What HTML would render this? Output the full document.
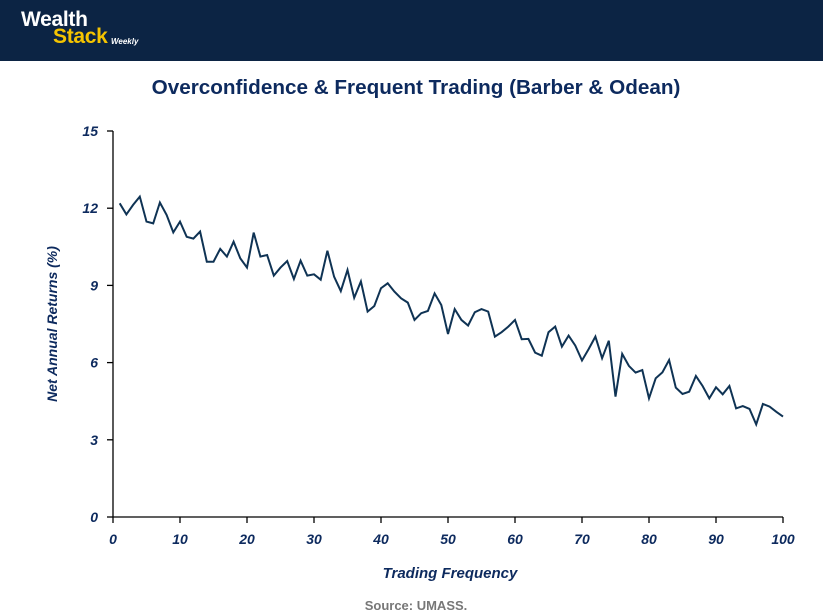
<!DOCTYPE html>
<html><head><meta charset="utf-8"><style>
body{margin:0;width:823px;height:612px;background:#fff;overflow:hidden;font-family:"Liberation Sans",sans-serif}
#hdr{position:absolute;left:0;top:0;width:823px;height:61px;background:#0c2444}
.logo{position:absolute;font-weight:bold;font-size:21px;letter-spacing:-0.3px}
</style></head><body>
<div id="hdr">
<div class="logo" style="left:21px;top:8px;color:#fff">Wealth</div>
<div class="logo" style="left:53px;top:25px;color:#f5c400">Stack</div>
<div style="position:absolute;left:111px;top:37px;color:#fff;font-size:8px;font-weight:bold;font-style:italic">Weekly</div>
</div>
<svg id="chart" width="823" height="612" style="position:absolute;left:0;top:0"></svg>
<script>
const yValues=[12.19,11.76,12.13,12.45,11.48,11.41,12.22,11.74,11.06,11.48,10.89,10.82,11.09,9.92,9.92,10.42,10.12,10.70,10.05,9.69,11.05,10.12,10.18,9.38,9.69,9.95,9.25,9.96,9.38,9.43,9.22,10.35,9.34,8.78,9.60,8.52,9.15,7.98,8.20,8.89,9.08,8.76,8.50,8.33,7.66,7.92,8.01,8.69,8.24,7.11,8.08,7.66,7.44,7.96,8.08,7.98,7.01,7.18,7.40,7.66,6.91,6.92,6.39,6.27,7.18,7.40,6.62,7.05,6.66,6.08,6.53,7.01,6.17,6.85,4.68,6.34,5.87,5.61,5.71,4.61,5.39,5.62,6.10,5.03,4.78,4.87,5.48,5.09,4.61,5.04,4.77,5.09,4.22,4.31,4.20,3.60,4.39,4.29,4.09,3.90];
const xTicks=[0,10,20,30,40,50,60,70,80,90,100];
const yTicks=[0,3,6,9,12,15];
const NS='http://www.w3.org/2000/svg',svg=document.getElementById('chart');
const X0=113,X1=783,Y0=517,Y1=131;
const sx=v=>X0+(v-0)/100*(X1-X0), sy=v=>Y0-(v/15)*(Y0-Y1);
function mk(t,a,txt){const e=document.createElementNS(NS,t);for(const k in a)e.setAttribute(k,a[k]);if(txt!=null)e.textContent=txt;svg.appendChild(e);return e;}
const nav='#0d2a5e';
let e=mk('text',{x:416,y:94,'text-anchor':'middle','font-size':20.7,'font-weight':'bold',fill:nav},'Overconfidence & Frequent Trading (Barber & Odean)');


e=mk('line',{x1:X0,y1:Y1,x2:X0,y2:Y0,stroke:'#000','stroke-width':1.3});


e=mk('line',{x1:X0,y1:Y0,x2:X1,y2:Y0,stroke:'#000','stroke-width':1.3});


yTicks.forEach(t=>{
 e=mk('line',{x1:X0-6,y1:sy(t),x2:X0,y2:sy(t),stroke:'#000','stroke-width':1.3});
 
 
 e=mk('text',{x:X0-15,y:sy(t)+5,'text-anchor':'end','font-size':14,'font-weight':'bold','font-style':'italic',fill:nav},t);
 
 
});
xTicks.forEach(t=>{
 e=mk('line',{x1:sx(t),y1:Y0,x2:sx(t),y2:Y0+6,stroke:'#000','stroke-width':1.3});
 
 
 e=mk('text',{x:sx(t),y:Y0+27,'text-anchor':'middle','font-size':14,'font-weight':'bold','font-style':'italic',fill:nav},t);
 
 
});
e=mk('text',{x:450,y:578,'text-anchor':'middle','font-size':15,'font-weight':'bold','font-style':'italic',fill:nav},'Trading Frequency');


e=mk('text',{x:0,y:0,transform:'translate(57,324) rotate(-90)','text-anchor':'middle','font-size':14,'font-weight':'bold','font-style':'italic',fill:nav},'Net Annual Returns (%)');


const pts=yValues.map((v,i)=>sx(i+1).toFixed(1)+','+sy(v).toFixed(1)).join(' ');
e=mk('polyline',{points:pts,fill:'none',stroke:'#0f3354','stroke-width':2,'stroke-linejoin':'miter'});


e=mk('text',{x:416,y:610,'text-anchor':'middle','font-size':13,'font-weight':'bold',fill:'#777'},'Source: UMASS.');


</script>
</body></html>
